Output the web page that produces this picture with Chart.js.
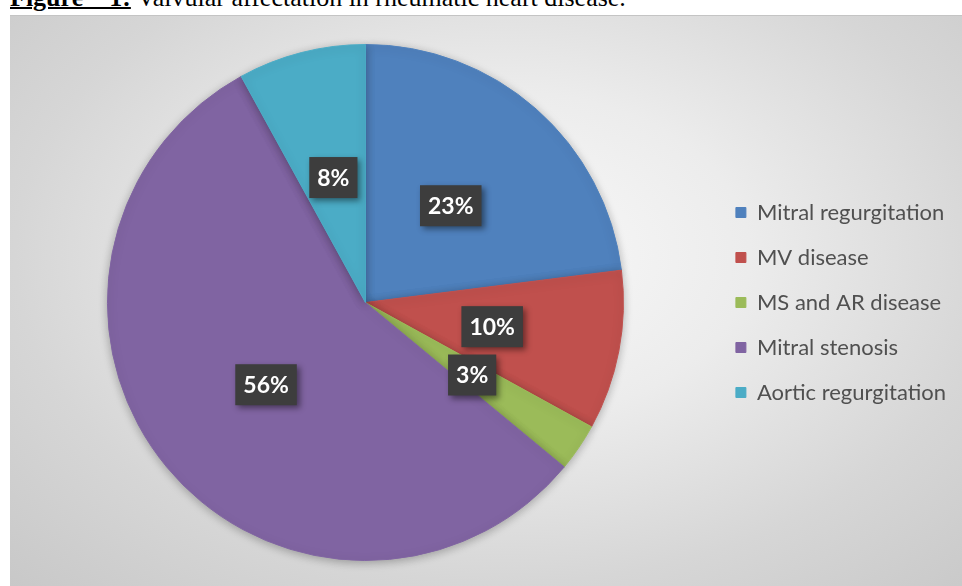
<!DOCTYPE html>
<html>
<head>
<meta charset="utf-8">
<script src="https://cdn.jsdelivr.net/npm/chart.js@4.4.1/dist/chart.umd.min.js"></script>
<style>
  body { margin: 0; width: 962px; height: 586px; overflow: hidden; background: #fff; position: relative; }
  #title { position: absolute; left: 10px; top: -15px; font: 26px/26px "Liberation Serif", "Times New Roman", serif; white-space: pre; color: #000; }
  #title b { text-decoration: underline; text-decoration-thickness: 2px; }
  #frame { position: absolute; left: 10px; top: 15px; width: 952px; height: 571px;
           border-top: 1px solid #c4c4c4; box-sizing: border-box;
           background: radial-gradient(ellipse farthest-corner at 52% 42%, #f9f9f9 0%, #ececec 35%, #d6d6d6 70%, #c8c8c8 100%); }
</style>
</head>
<body>
<div id="title"><b>Figure    1:</b> Valvular affectation in rheumatic heart disease.</div>
<div id="frame"><canvas id="res-canvas"></canvas></div>
<script>
// chart data
const categories = ['Mitral regurgitation', 'MV disease', 'MS and AR disease', 'Mitral stenosis', 'Aortic regurgitation'];
const values = [23, 10, 3, 56, 8];
const sliceColors = ['#4f81bd', '#c0504d', '#9bbb59', '#8064a2', '#4bacc6'];

// soft shadow under the pie
const pieShadow = {
  id: 'pieShadow',
  beforeDatasetsDraw(chart) {
    const ctx = chart.ctx;
    ctx.save();
    ctx.shadowColor = 'rgba(0,0,0,0.28)';
    ctx.shadowBlur = 10;
    ctx.shadowOffsetY = 2;
  },
  afterDatasetsDraw(chart) {
    chart.ctx.restore();
  }
};

// dark boxed percentage labels
const percentLabels = {
  id: 'percentLabels',
  afterDatasetsDraw(chart) {
    const ctx = chart.ctx;
    const data = chart.data.datasets[0].data;
    const total = data.reduce((a, b) => a + b, 0);
    const meta = chart.getDatasetMeta(0);
    ctx.save();
    ctx.font = 'bold 23px Lato';
    ctx.textAlign = 'center';
    ctx.textBaseline = 'middle';
    meta.data.forEach((arc, i) => {
      const pos = arc.tooltipPosition();
      const txt = Math.round(data[i] / total * 100) + '%';
      const w = ctx.measureText(txt).width + 16;
      const h = 41;
      ctx.shadowColor = 'rgba(0,0,0,0.45)';
      ctx.shadowBlur = 6;
      ctx.shadowOffsetX = 3;
      ctx.shadowOffsetY = 3;
      ctx.fillStyle = '#3d3d3d';
      ctx.fillRect(pos.x - w / 2, pos.y - h / 2, w, h);
      ctx.shadowColor = 'transparent';
      ctx.fillStyle = '#ffffff';
      ctx.fillText(txt, pos.x, pos.y + 1);
    });
    ctx.restore();
  }
};

new Chart(document.getElementById('res-canvas').getContext('2d'), {
  type: 'pie',
  data: {
    labels: categories,
    datasets: [{
      data: values,
      backgroundColor: sliceColors,
      borderColor: sliceColors,
      borderWidth: 1
    }]
  },
  options: {
    responsive: true,
    maintainAspectRatio: false,
    animation: false,
    layout: { padding: { left: 8, right: 6, top: 28, bottom: 25 } },
    plugins: {
      legend: {
        position: 'right',
        labels: {
          boxWidth: 10,
          boxHeight: 10,
          padding: 23,
          color: '#505050',
          font: { family: 'Lato', size: 22 }
        }
      },
      tooltip: { enabled: false }
    }
  },
  plugins: [pieShadow, percentLabels]
});
</script>
</body>
</html>
